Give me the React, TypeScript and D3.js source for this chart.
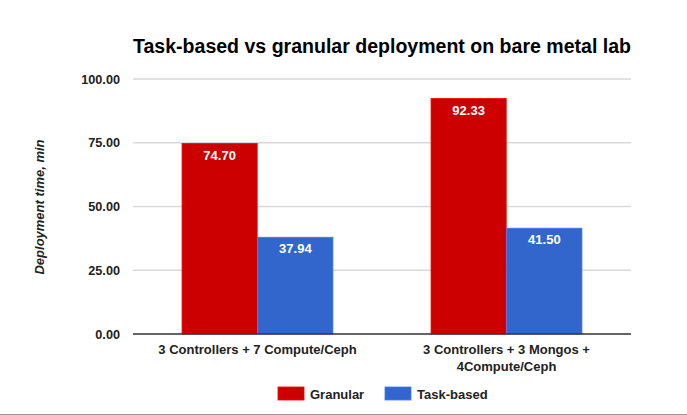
import React, { useEffect, useRef } from "react";
import * as d3 from "d3";

const categories = ["3 Controllers + 7 Compute/Ceph", "3 Controllers + 3 Mongos + 4Compute/Ceph"];
const categoryLines = [["3 Controllers + 7 Compute/Ceph"], ["3 Controllers + 3 Mongos +", "4Compute/Ceph"]];
const seriesNames = ["Granular", "Task-based"];
const granular = [74.7, 92.33];
const taskBased = [37.94, 41.5];
const yTicks = [0, 25, 50, 75, 100];

const App = () => {
  const ref = useRef<SVGSVGElement>(null);

  useEffect(() => {
    const width = 687;
    const height = 415;
    const font = "'Liberation Sans', Arial, sans-serif";
    const colors = ["#cc0000", "#3366cc"];
    const svg = d3.select(ref.current);
    svg.selectAll("*").remove();
    svg.attr("width", width).attr("height", height).style("font-family", font);

    svg.append("rect").attr("width", width).attr("height", height).attr("fill", "#fff");

    const left = 133, right = 631, top = 79, bottom = 334;
    const y = d3.scaleLinear().domain([0, 100]).range([bottom, top]);
    const x0 = d3.scaleBand().domain(categories).range([left, right]).paddingInner(0.394).paddingOuter(0.197);
    const x1 = d3.scaleBand().domain(seriesNames).range([0, x0.bandwidth()]).paddingInner(0.008);

    // grid
    svg.append("g")
      .selectAll("line")
      .data(yTicks.filter(t => t > 0))
      .enter()
      .append("line")
      .attr("x1", left).attr("x2", right)
      .attr("y1", d => y(d)).attr("y2", d => y(d))
      .attr("stroke", "#d9d9d9")
      .attr("stroke-width", 1.3);

    svg.append("g")
      .selectAll("text")
      .data(yTicks)
      .enter()
      .append("text")
      .attr("x", 120)
      .attr("y", d => y(d) + 4.5)
      .attr("text-anchor", "end")
      .attr("font-size", "12.7px")
      .attr("font-weight", "bold")
      .attr("fill", "#222")
      .text(d => d3.format(".2f")(d));

    // bars
    const rows = categories.map((c, i) => ({ cat: c, vals: [granular[i], taskBased[i]] }));
    const groups = svg.append("g")
      .selectAll("g")
      .data(rows)
      .enter()
      .append("g")
      .attr("transform", d => `translate(${x0(d.cat)},0)`);

    const cells = groups.selectAll("g")
      .data(d => d.vals.map((v, j) => ({ key: seriesNames[j], v, j })))
      .enter()
      .append("g");

    cells.append("rect")
      .attr("x", d => x1(d.key)!)
      .attr("y", d => y(d.v))
      .attr("width", x1.bandwidth())
      .attr("height", d => bottom - y(d.v))
      .attr("fill", d => colors[d.j])
      .attr("stroke", d => d3.color(colors[d.j])!.brighter(0.5).toString())
      .attr("stroke-width", 0.8);

    cells.append("text")
      .attr("x", d => x1(d.key)! + x1.bandwidth() / 2)
      .attr("y", d => y(d.v) + 16)
      .attr("text-anchor", "middle")
      .attr("font-size", "13px")
      .attr("font-weight", "bold")
      .attr("fill", "#fff")
      .text(d => d3.format(".2f")(d.v));

    // baseline
    svg.append("line")
      .attr("x1", left).attr("x2", right)
      .attr("y1", y(0)).attr("y2", y(0))
      .attr("stroke", "#333")
      .attr("stroke-width", 1.5);

    // category labels
    categories.forEach((c, i) => {
      const t = svg.append("text")
        .attr("text-anchor", "middle")
        .attr("font-size", "13px")
        .attr("font-weight", "bold")
        .attr("fill", "#222");
      categoryLines[i].forEach((line, k) => {
        t.append("tspan")
          .attr("x", x0(c)! + x0.bandwidth() / 2)
          .attr("y", 354 + k * 17)
          .text(line);
      });
    });

    // title
    svg.append("text")
      .attr("x", (left + right) / 2)
      .attr("y", 53)
      .attr("text-anchor", "middle")
      .attr("font-size", "20px")
      .attr("font-weight", "bold")
      .attr("fill", "#000")
      .attr("textLength", 498)
      .attr("lengthAdjust", "spacingAndGlyphs")
      .text("Task-based vs granular deployment on bare metal lab");

    // y axis title
    svg.append("text")
      .attr("transform", `translate(44,207) rotate(-90)`)
      .attr("text-anchor", "middle")
      .attr("font-size", "13px")
      .attr("font-weight", "bold")
      .attr("font-style", "italic")
      .attr("fill", "#222")
      .text("Deployment time, min");

    // legend
    const legendX = [278, 385];
    seriesNames.forEach((s, i) => {
      svg.append("rect")
        .attr("x", legendX[i]).attr("y", 387)
        .attr("width", 26).attr("height", 13)
        .attr("fill", colors[i])
        .attr("stroke", d3.color(colors[i])!.brighter(0.5).toString())
        .attr("stroke-width", 0.8);
      svg.append("text")
        .attr("x", legendX[i] + 32)
        .attr("y", 399)
        .attr("font-size", "13px")
        .attr("font-weight", "bold")
        .attr("fill", "#222")
        .text(s);
    });

    svg.append("line")
      .attr("x1", 0).attr("x2", width)
      .attr("y1", 414.5).attr("y2", 414.5)
      .attr("stroke", "#999")
      .attr("stroke-width", 1);
  }, []);

  return <svg ref={ref} style={{ position: "absolute", left: 0, top: 0 }}></svg>;
};

export default App;
